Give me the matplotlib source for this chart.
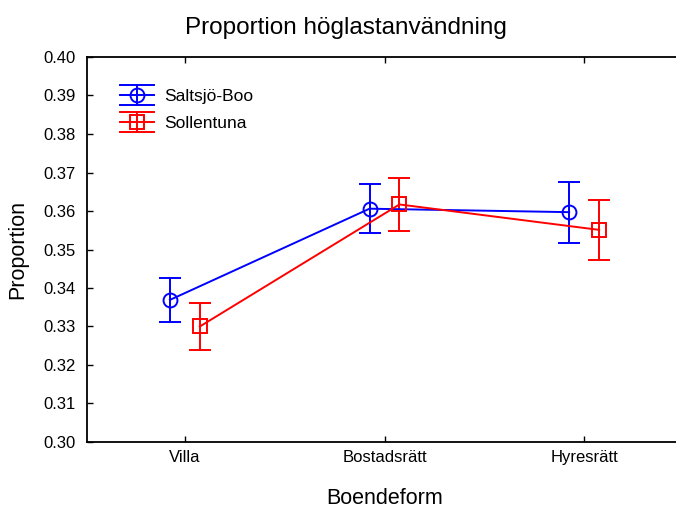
import numpy as np
import matplotlib
matplotlib.use("Agg")
import matplotlib.pyplot as plt
from matplotlib.legend_handler import HandlerBase
from matplotlib.lines import Line2D

plt.rcParams['font.family'] = ['Liberation Sans', 'DejaVu Sans']

# ===== DATA =====
categories = ['Villa', 'Bostadsrätt', 'Hyresrätt']
series_names = ['Saltsjö-Boo', 'Sollentuna']
saltsjo_mean = [0.3369, 0.3606, 0.3597]
saltsjo_err = [0.0058, 0.0064, 0.0079]
sollentuna_mean = [0.3300, 0.3617, 0.3551]
sollentuna_err = [0.0062, 0.0068, 0.0078]
yticks = [0.30, 0.31, 0.32, 0.33, 0.34, 0.35, 0.36, 0.37, 0.38, 0.39, 0.40]

LW = 1.4


class HandlerCI(HandlerBase):
    """Statistica-style legend key: line + marker + whisker with wide caps."""
    def create_artists(self, legend, orig_handle, xdescent, ydescent,
                       width, height, fontsize, trans):
        col = orig_handle.get_color()
        x0, x1 = -xdescent, width - xdescent
        xc = (x0 + x1) / 2
        yc = height / 2 - ydescent
        d = 7.2
        arts = []
        for y in (yc - d, yc, yc + d):
            arts.append(Line2D([x0, x1], [y, y], color=col, lw=LW))
        arts.append(Line2D([xc, xc], [yc - d, yc + d], color=col, lw=LW))
        arts.append(Line2D([xc], [yc], marker=orig_handle.get_marker(),
                           markersize=orig_handle.get_markersize(),
                           markerfacecolor='none', markeredgecolor=col,
                           markeredgewidth=LW, linestyle='none'))
        for a in arts:
            a.set_transform(trans)
        return arts


fig = plt.figure(figsize=(6.76, 5.11), dpi=100)
ax = fig.add_axes([87 / 676, 69 / 511, 595 / 676, 385 / 511])

x = np.arange(len(categories))
off = 0.075
handles = []
for xs, m, e, col, mk in [(x - off, saltsjo_mean, saltsjo_err, 'blue', 'o'),
                          (x + off, sollentuna_mean, sollentuna_err, 'red', 's')]:
    ax.errorbar(xs, m, yerr=e, color=col, lw=LW, capsize=8, capthick=LW,
                marker=mk, markersize=10, markerfacecolor='none',
                markeredgewidth=LW, elinewidth=LW)
    handles.append(Line2D([], [], color=col, marker=mk, markersize=10))

ax.set_xlim(-0.49, 2.49)
ax.set_ylim(0.30, 0.40)
ax.set_xticks(x)
ax.set_xticklabels(categories)
ax.set_yticks(yticks)
ax.set_yticklabels([f'{v:.2f}' for v in yticks])
ax.tick_params(direction='in', length=4, width=1, labelsize=12, colors='black',
               top=True, right=True)
ax.tick_params(axis='y', pad=8)
ax.tick_params(axis='x', pad=6)
for s in ax.spines.values():
    s.set_linewidth(1.3)

ax.set_xlabel('Boendeform', fontsize=15.5, labelpad=16)
ax.set_ylabel('Proportion', fontsize=15.5, labelpad=11)
fig.text(346 / 676, 1 - 28 / 511, 'Proportion höglastanvändning',
         fontsize=17.5, ha='center', va='center')

ax.legend(handles, series_names, handler_map={Line2D: HandlerCI()},
          loc='upper left', bbox_to_anchor=(33 / 595, 1 - 32 / 385),
          borderaxespad=0, borderpad=0, frameon=False, fontsize=12.5,
          handlelength=1.95, handletextpad=0.58, labelspacing=0.65)

fig.savefig('out.png', dpi=100)
